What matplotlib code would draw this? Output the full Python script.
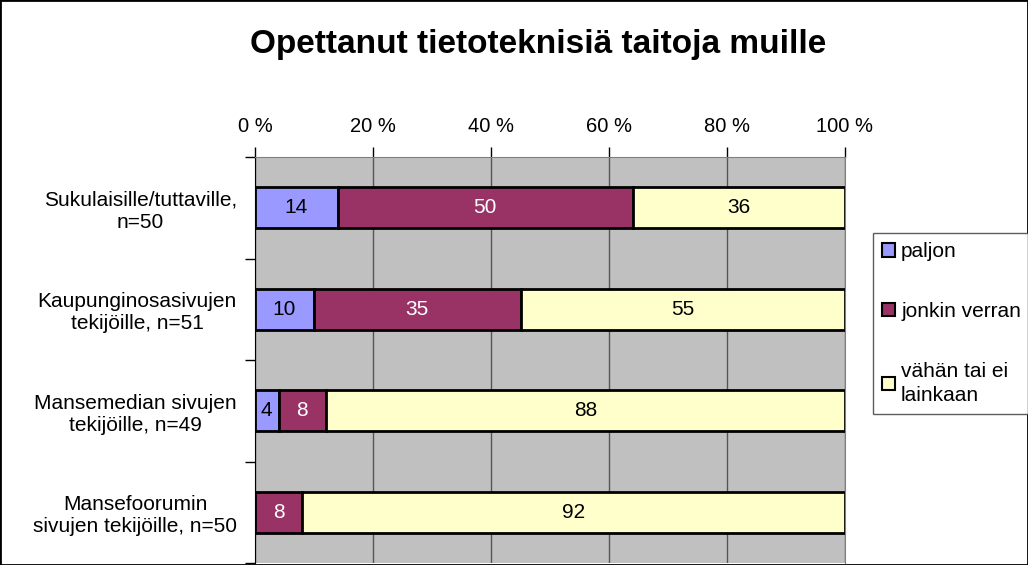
import numpy as np
import matplotlib
matplotlib.use("Agg")
import matplotlib.pyplot as plt
from matplotlib.patches import Rectangle

plt.rcParams['font.family'] = ['Liberation Sans', 'DejaVu Sans']

categories = ["Sukulaisille/tuttaville,\nn=50",
              "Kaupunginosasivujen\ntekijöille, n=51",
              "Mansemedian sivujen\ntekijöille, n=49",
              "Mansefoorumin\nsivujen tekijöille, n=50"]
paljon = [14, 10, 4, 0]
jonkin = [50, 35, 8, 8]
vahan = [36, 55, 88, 92]
series_names = ["paljon", "jonkin verran", "vähän tai ei\nlainkaan"]
colors = ["#9999FF", "#993366", "#FFFFCC"]
text_colors = ["black", "white", "black"]
xticks = [0, 20, 40, 60, 80, 100]

fig = plt.figure(figsize=(10.28, 5.65), dpi=100)
ax = fig.add_axes([255 / 1028, 1 - 563 / 565, 590 / 1028, 406 / 565])
ax.set_facecolor("#C0C0C0")

y = np.arange(len(categories))
left = np.zeros(len(categories))
for vals, name, col, tc in zip([paljon, jonkin, vahan], series_names, colors, text_colors):
    vals = np.array(vals, dtype=float)
    bars = ax.barh(y, vals, left=left, height=0.4, color=col,
                   edgecolor="black", linewidth=2, label=name, zorder=3)
    for b, v, l in zip(bars, vals, left):
        if v > 0:
            ax.text(l + v / 2, b.get_y() + b.get_height() / 2, f"{int(v)}",
                    ha="center", va="center", fontsize=15, color=tc, zorder=4)
    left += vals

ax.set_xlim(0, 100)
ax.set_ylim(len(categories) - 0.5, -0.5)
ax.xaxis.tick_top()
ax.set_xticks(xticks)
ax.set_xticklabels([f"{t} %" for t in xticks], fontsize=14.5)
ax.tick_params(axis="x", length=7, width=1, color="black", pad=8)
ax.set_yticks(y)
ax.set_yticklabels(categories, fontsize=15, ha="right", multialignment="center",
                   linespacing=1.2)
ax.tick_params(axis="y", length=0, pad=13)
ax.set_yticks(np.arange(len(categories) + 1) - 0.5, minor=True)
ax.tick_params(axis="y", which="minor", length=7, width=1, color="black")
ax.grid(axis="x", color="#555555", linewidth=1, zorder=1)
for s in ["top", "right", "bottom"]:
    ax.spines[s].set_color("#808080")
ax.spines["left"].set_color("black")
ax.spines["bottom"].set_visible(False)

fig.text((253 + 823) / 2 / 1028, 1 - 45 / 565, "Opettanut tietoteknisiä taitoja muille",
         ha="center", va="center", fontsize=24, fontweight="bold")

leg = fig.legend(loc="upper left", bbox_to_anchor=(873 / 1028, 1 - 233 / 565),
                 fontsize=15, frameon=True, fancybox=False, edgecolor="#333333",
                 handlelength=0.6, handleheight=0.6, handletextpad=0.3,
                 labelspacing=1.95, borderpad=0.45, borderaxespad=0)
leg.get_frame().set_linewidth(1)
for h in leg.legend_handles:
    h.set_linewidth(1.5)
for t in leg.get_texts():
    t.set_linespacing(1.35)

fig.patches.append(Rectangle((0, 0), 1, 1, transform=fig.transFigure, fill=False,
                             edgecolor="black", linewidth=2))

fig.savefig("out.png", dpi=100)
